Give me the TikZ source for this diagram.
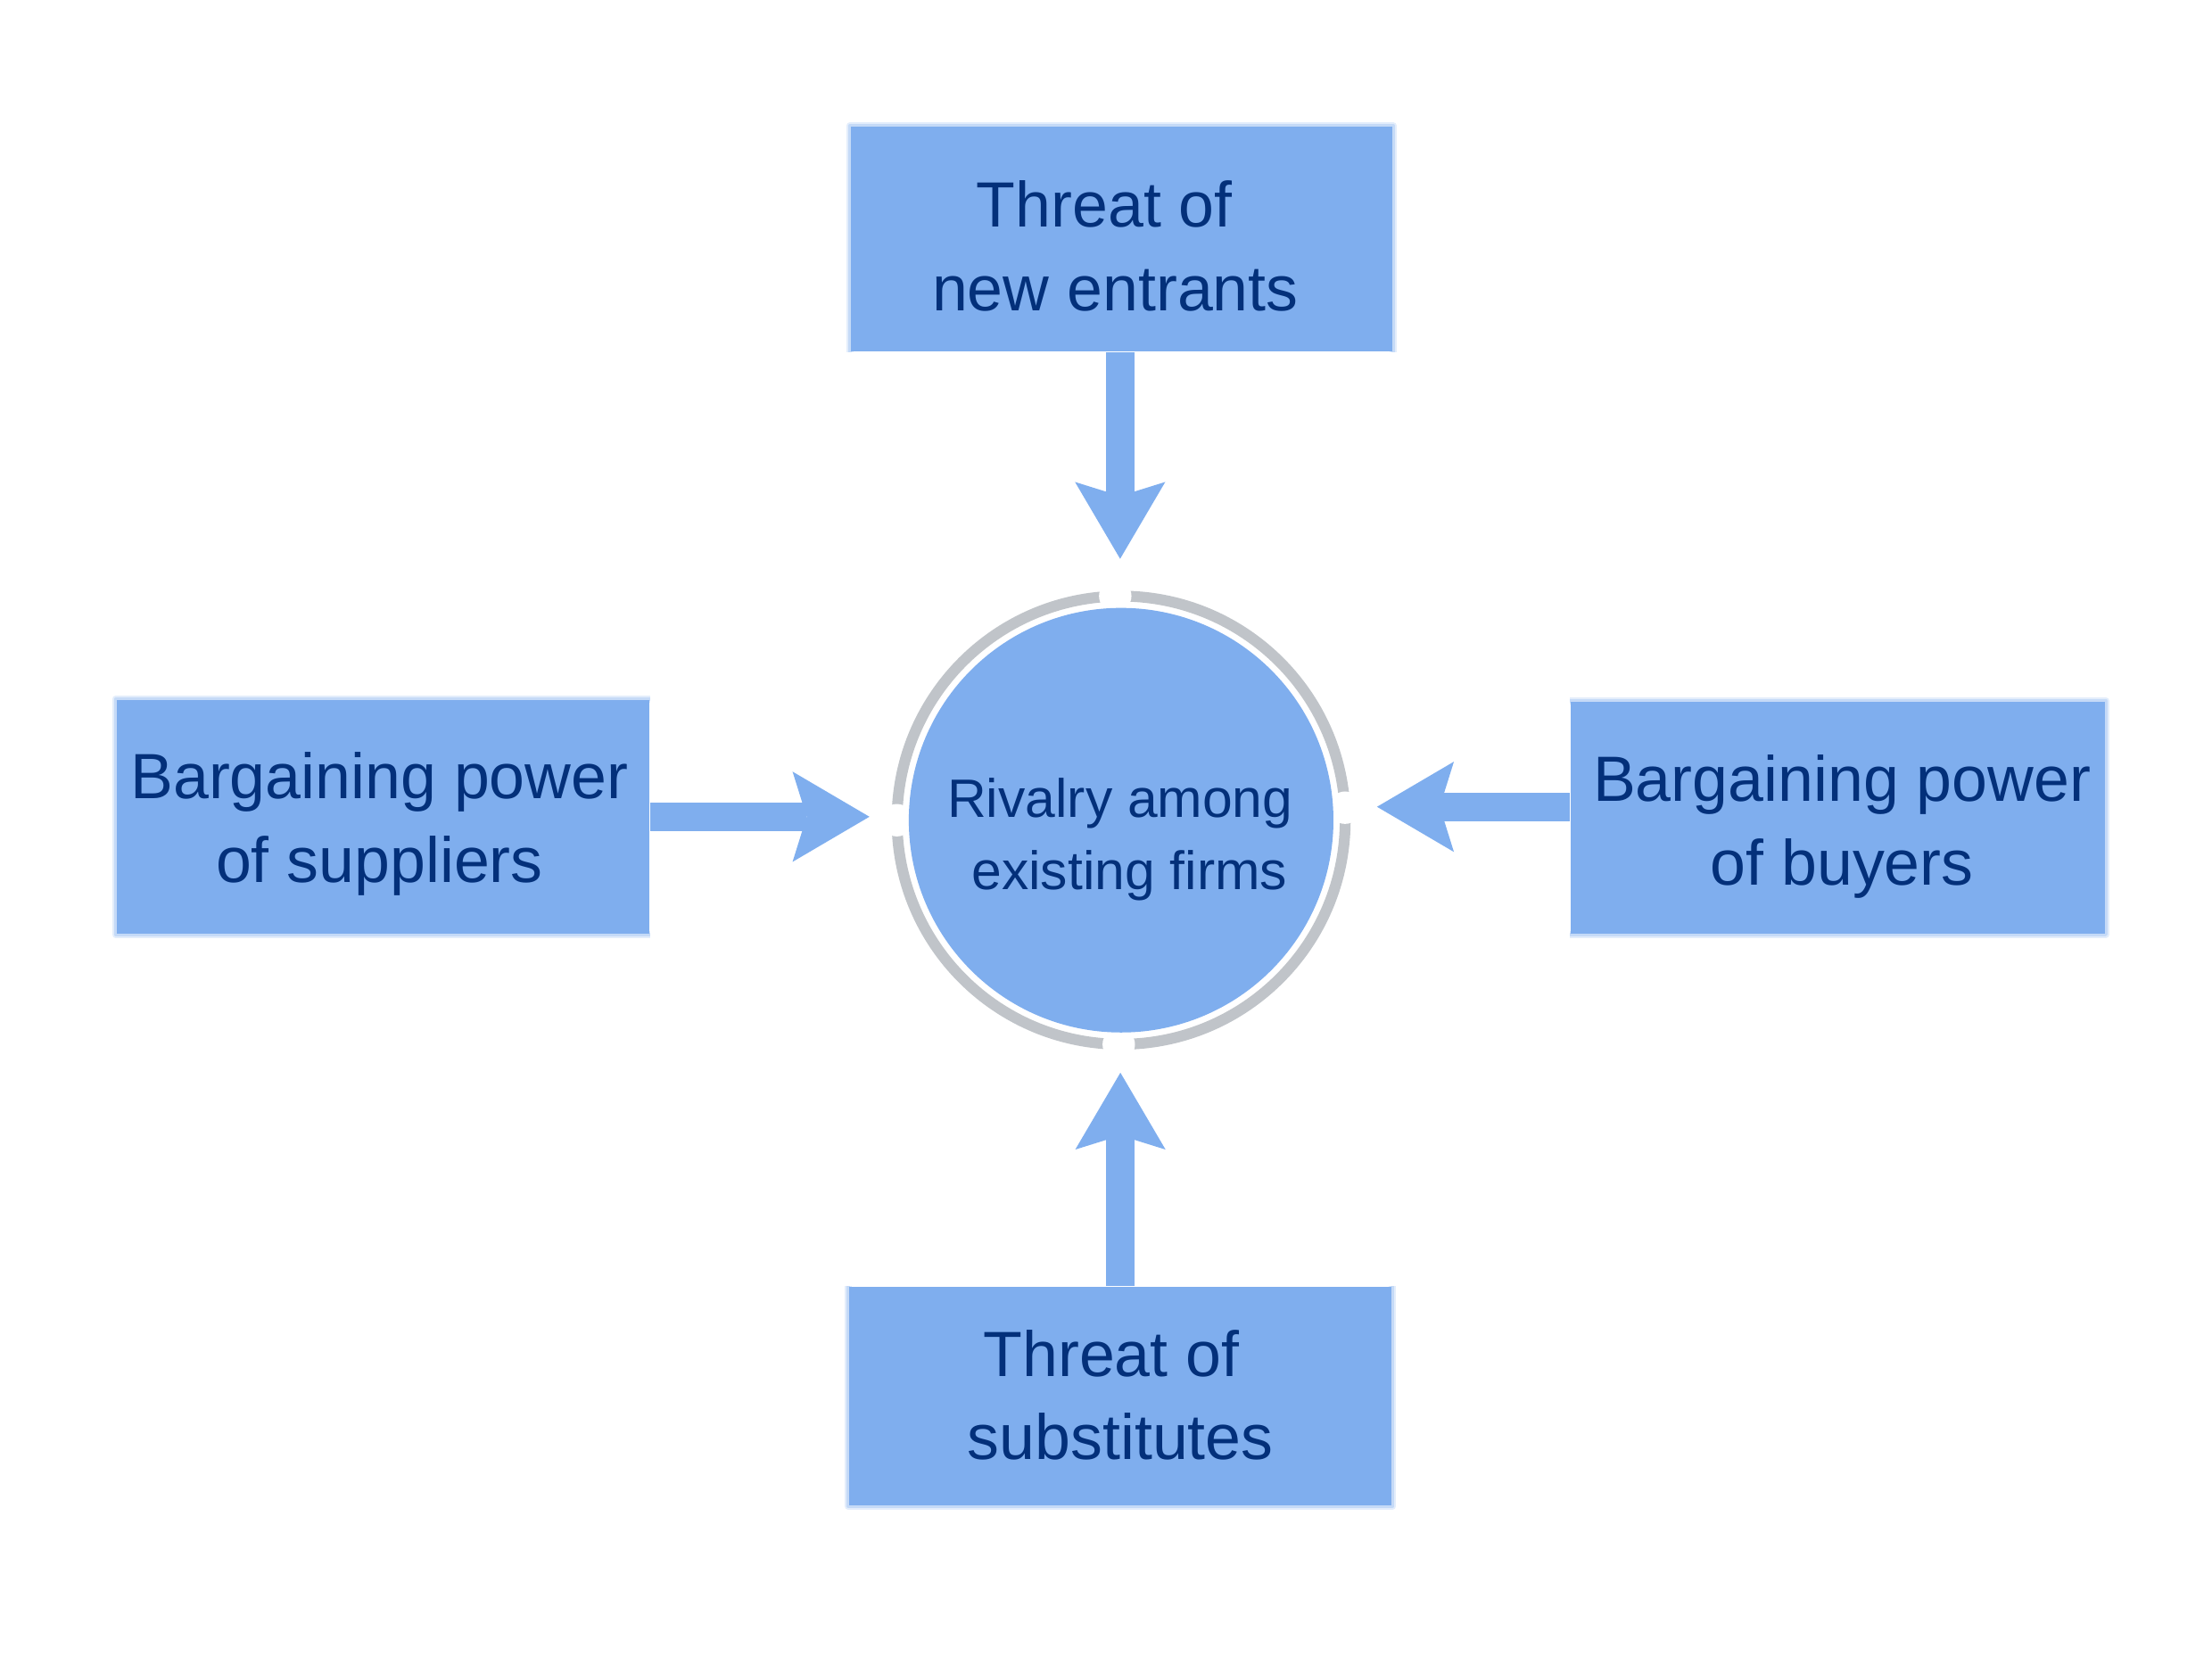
\documentclass[tikz,border=0pt]{standalone}
\usepackage{fontspec}
\setmainfont{Liberation Sans}
\usetikzlibrary{arrows.meta}
\definecolor{boxblue}{RGB}{127,174,238}
\definecolor{ringgray}{RGB}{192,196,201}
\definecolor{txtblue}{RGB}{3,48,122}
\tikzset{
  forcebox/.style={rectangle, fill=boxblue, draw=none, inner sep=0pt},
  softedge/.style={draw=boxblue, line join=round, line cap=butt},
  boxtext/.style={text=txtblue, font=\fontsize{12.9}{16.84}\selectfont, align=center, inner sep=0pt, anchor=north},
  rivtext/.style={text=txtblue, font=\fontsize{10.9}{14.5}\selectfont, align=center, inner sep=0pt, anchor=north},
  forcearrow/.style={line width=0.2cm, draw=boxblue,
    -{Stealth[length=0.545cm, width=0.64cm, inset=0.10cm, line width=0pt]}},
  ringline/.style={draw=ringgray, line width=0.077cm},
  gapdot/.style={fill=white, draw=none}
}
\begin{document}
\begin{tikzpicture}
\useasboundingbox (0,0) rectangle (15.68,11.86);
\coordinate (c) at (7.947,6.045);
% ring with gaps
\draw[ringline] (c) circle (1.5885);
\fill[gapdot] (c) ++(91.5:1.59) circle (0.115);
\fill[gapdot] (c) ++(3.2:1.59) circle (0.115);
\fill[gapdot] (c) ++(180:1.59) circle (0.115);
\fill[gapdot] (c) ++(269.4:1.59) circle (0.115);
% central circle
\node[circle, fill=boxblue, draw=none, minimum size=3.01cm, inner sep=0pt] (rival) at (c) {};
% boxes
\node[forcebox, minimum width=3.84cm, minimum height=1.59cm] (new) at (7.95,10.165) {};
\node[forcebox, minimum width=3.774cm, minimum height=1.655cm] (sup) at (2.713,6.0695) {};
\node[forcebox, minimum width=3.785cm, minimum height=1.644cm] (buy) at (13.0275,6.064) {};
\node[forcebox, minimum width=3.844cm, minimum height=1.551cm] (sub) at (7.942,1.9625) {};
% soft outer edges of the boxes
\foreach \w/\o in {0.05/0.22, 0.025/0.3}{
  \draw[softedge, line width=\w cm, opacity=\o] (new.south west) -- (new.north west) -- (new.north east) -- (new.south east);
  \draw[softedge, line width=\w cm, opacity=\o] (sup.north east) -- (sup.north west) -- (sup.south west) -- (sup.south east);
  \draw[softedge, line width=\w cm, opacity=\o] (buy.north west) -- (buy.north east) -- (buy.south east) -- (buy.south west);
  \draw[softedge, line width=\w cm, opacity=\o] (sub.north west) -- (sub.south west) -- (sub.south east) -- (sub.north east);
}
% arrows
\draw[forcearrow, shorten >=0.341cm] ([xshift=-0.01cm]new.south) -- ([xshift=-0.01cm]new.south |- rival.north);
\draw[forcearrow, shorten >=0.272cm] (sup.east) -- (sup.east -| rival.west);
\draw[forcearrow, shorten >=0.302cm] ([yshift=0.076cm]buy.west) -- ([yshift=0.076cm]buy.west -| rival.east);
\draw[forcearrow, shorten >=0.278cm] (sub.north) -- (sub.north |- rival.south);
% texts
\node[boxtext] (tnew) at (7.867,10.585) {Threat of\hspace*{0.077cm}\\\hspace*{0.077cm}new entrants};
\node[boxtext] (tsup) at (2.69,6.532) {Bargaining power\\of suppliers};
\node[boxtext] (tbuy) at (13.057,6.513) {Bargaining power\\of buyers};
\node[boxtext] (tsub) at (7.91,2.439) {Threat of\hspace*{0.065cm}\\\hspace*{0.065cm}substitutes};
\node[rivtext] (triv) at (7.973,6.348) {Rivalry among\hspace*{0.066cm}\\\hspace*{0.066cm}existing firms};
\end{tikzpicture}
\end{document}
